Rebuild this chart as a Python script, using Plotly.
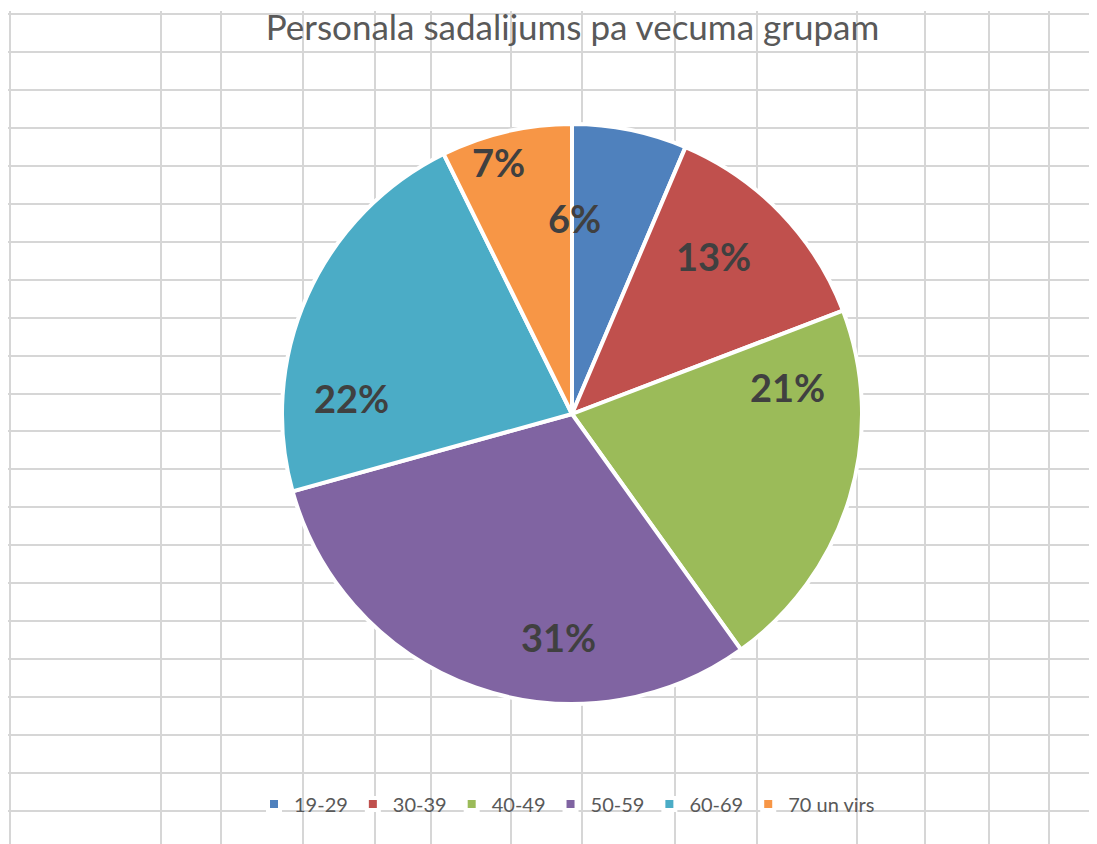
import plotly.graph_objects as go

# ---- data ----
age_groups = ["19-29", "30-39", "40-49", "50-59", "60-69", "70 un virs"]
shares = [6.4, 12.8, 20.9, 30.6, 22.0, 7.3]
colors = ["#4F81BD", "#C0504D", "#9BBB59", "#8064A2", "#4BACC6", "#F79646"]
title_text = "Personala sadalijums pa vecuma grupam"

# ---- layout constants (page pixel coordinates) ----
OFF = 8                      # default body margin of the html page
PAGE_W, PAGE_H = 1097, 844
W, H = PAGE_W - OFF, PAGE_H - OFF
TOP = 11                     # top of the plotting area (page px)
grid_x = [9.6, 161, 221, 303, 375, 431, 511, 582, 675, 757, 857, 925, 989, 1049]
grid_y = [14 + 37.95 * k for k in range(22)]
# data-label anchor points (Excel "best fit" placement), page px
label_xy = [(574, 218), (713, 256), (787, 387), (558, 637), (351, 398), (498, 162)]


def paper_x(p):
    return (p - OFF) / (PAGE_W - OFF)


def paper_y(p):
    return (PAGE_H - p) / (PAGE_H - TOP)


total = sum(shares)
pct_text = [f"{round(v / total * 100)}%" for v in shares]

fig = go.Figure()

# invisible cartesian trace so the grid axes are drawn
fig.add_trace(go.Scatter(x=[], y=[], showlegend=False, hoverinfo="skip"))

fig.add_trace(go.Pie(
    labels=age_groups,
    values=shares,
    sort=False,
    direction="clockwise",
    rotation=0,
    marker=dict(colors=colors, line=dict(color="white", width=4)),
    textinfo="none",
    domain=dict(x=[paper_x(282), paper_x(862)], y=[paper_y(704), paper_y(124)]),
    hoverinfo="label+percent",
))

for txt, (lx, ly) in zip(pct_text, label_xy):
    fig.add_annotation(x=lx, y=ly, xref="x", yref="y", text=txt, showarrow=False,
                       xanchor="center", yanchor="middle",
                       font=dict(family="Lato", size=38, color="#404040", weight="bold"))

fig.update_layout(
    width=W, height=H,
    margin=dict(l=0, r=0, t=TOP - OFF, b=0, pad=0),
    paper_bgcolor="white",
    plot_bgcolor="white",
    xaxis=dict(range=[OFF, PAGE_W], tickvals=grid_x, showticklabels=False, ticks="",
               showgrid=True, gridcolor="#d6d6d6", gridwidth=2, zeroline=False,
               showline=False, fixedrange=True),
    yaxis=dict(range=[PAGE_H, TOP], tickvals=grid_y, showticklabels=False, ticks="",
               showgrid=True, gridcolor="#d6d6d6", gridwidth=2, zeroline=False,
               showline=False, fixedrange=True),
    title=dict(text=title_text, x=(572.5 - OFF) / W, xref="container", xanchor="center",
               y=1 - 20 / H, yref="container", yanchor="middle",
               font=dict(family="Lato", size=35, color="#595959")),
    legend=dict(orientation="h", x=paper_x(567), xanchor="center", y=paper_y(804),
                yanchor="middle", font=dict(family="Lato", size=20, color="#595959"),
                bgcolor="rgba(0,0,0,0)", traceorder="normal"),
    showlegend=True,
)

fig.write_html("out.html")
